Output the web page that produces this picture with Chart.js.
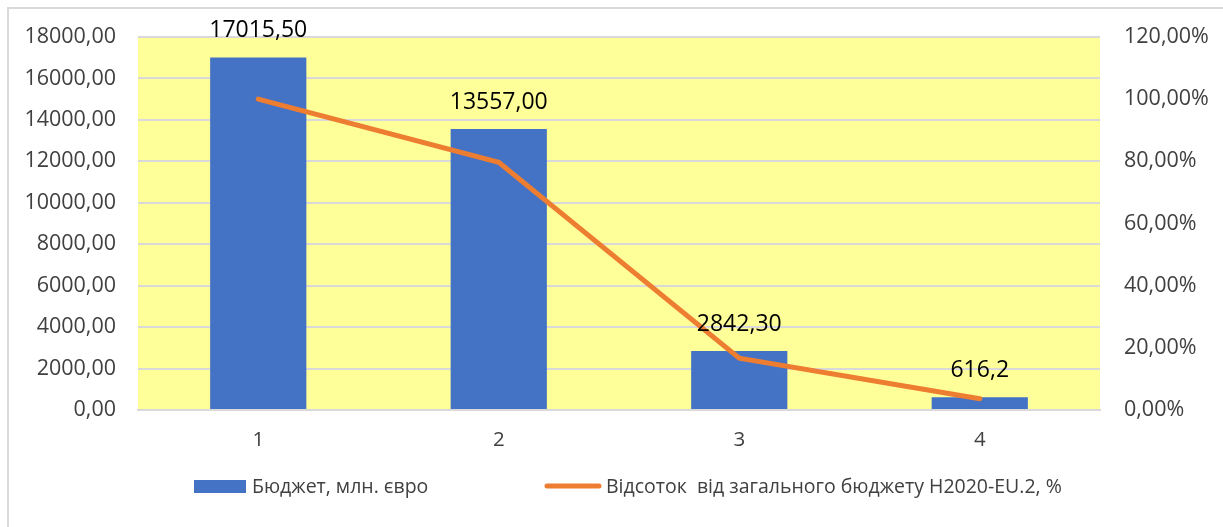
<!DOCTYPE html>
<html>
<head>
<meta charset="utf-8">
<script src="https://cdn.jsdelivr.net/npm/chart.js@4"></script>
<style>
html,body{margin:0;padding:0;background:#fff;}
#wrap{position:relative;width:1223px;height:527px;}
</style>
</head>
<body>
<div id="wrap"><canvas id="c" width="1223" height="527"></canvas></div>
<script>
const categories = ['1', '2', '3', '4'];
const budget = [17015.50, 13557.00, 2842.30, 616.2];
const budgetLabels = ['17015,50', '13557,00', '2842,30', '616,2'];
const percent = [100, 79.68, 16.70, 3.62];
const budgetName = 'Бюджет, млн. євро';
const percentName = 'Відсоток  від загального бюджету H2020-EU.2, %';

const FONT = "'Open Sans', sans-serif";
const BLUE = '#4472C4';
const ORANGE = '#ED7D31';
const GRID = '#D9D9D9';

const fmt2 = v => Number(v).toFixed(2).replace('.', ',');

const decor = {
  id: 'decor',
  beforeDraw(chart) {
    const {ctx, chartArea: a} = chart;
    ctx.save();
    ctx.fillStyle = '#FFFF99';
    ctx.fillRect(a.left, a.top, a.right - a.left, a.bottom - a.top);
    ctx.strokeStyle = GRID;
    ctx.lineWidth = 2;
    ctx.beginPath();
    ctx.moveTo(8, 527);
    ctx.lineTo(8, 8);
    ctx.lineTo(1223, 8);
    ctx.stroke();
    ctx.restore();
  },
  afterDatasetsDraw(chart) {
    const {ctx} = chart;
    const barIdx = chart.data.datasets.findIndex(d => d.type === 'bar');
    const lineIdx = chart.data.datasets.findIndex(d => d.type === 'line');
    const meta = chart.getDatasetMeta(barIdx);
    ctx.save();
    ctx.fillStyle = '#000';
    ctx.font = "23px " + FONT;
    ctx.textAlign = 'center';
    ctx.textBaseline = 'middle';
    meta.data.forEach((bar, i) => {
      ctx.fillText(budgetLabels[i], bar.x, bar.y - 27);
    });
    // legend
    ctx.font = "19.5px " + FONT;
    ctx.textAlign = 'left';
    ctx.fillStyle = BLUE;
    ctx.fillRect(194, 480, 52, 13);
    ctx.fillStyle = '#404040';
    ctx.fillText(chart.data.datasets[barIdx].label, 252, 487);
    ctx.strokeStyle = ORANGE;
    ctx.lineWidth = 5;
    ctx.lineCap = 'round';
    ctx.beginPath();
    ctx.moveTo(547, 486);
    ctx.lineTo(599, 486);
    ctx.stroke();
    ctx.fillText(chart.data.datasets[lineIdx].label, 606, 487);
    ctx.restore();
  }
};

new Chart(document.getElementById('c'), {
  data: {
    labels: categories,
    datasets: [
      {
        type: 'line',
        label: percentName,
        data: percent,
        yAxisID: 'y1',
        borderColor: ORANGE,
        borderWidth: 5,
        borderCapStyle: 'round',
        pointRadius: 0,
        tension: 0,
        order: 0
      },
      {
        type: 'bar',
        label: budgetName,
        data: budget,
        yAxisID: 'y',
        backgroundColor: BLUE,
        categoryPercentage: 1,
        barPercentage: 0.4,
        order: 1
      }
    ]
  },
  options: {
    responsive: false,
    animation: false,
    layout: {padding: {left: 0, right: 0, top: 37, bottom: 0}},
    plugins: {legend: {display: false}, tooltip: {enabled: false}},
    scales: {
      x: {
        grid: {display: false},
        border: {color: GRID, width: 2},
        ticks: {color: '#404040', font: {family: FONT, size: 20.5}, padding: 10},
        afterFit(s) { s.height = 117; }
      },
      y: {
        position: 'left',
        min: 0, max: 18000,
        ticks: {stepSize: 2000, color: '#404040', font: {family: FONT, size: 21.5}, padding: 22,
          callback: v => fmt2(v)},
        grid: {color: GRID, lineWidth: 2, drawTicks: false},
        border: {display: false},
        afterFit(s) { s.width = 138; }
      },
      y1: {
        position: 'right',
        min: 0, max: 120,
        ticks: {stepSize: 20, color: '#404040', font: {family: FONT, size: 21.5}, padding: 24,
          callback: v => fmt2(v) + '%'},
        grid: {display: false, drawTicks: false},
        border: {display: false},
        afterFit(s) { s.width = 123; }
      }
    }
  },
  plugins: [decor]
});
</script>
</body>
</html>
